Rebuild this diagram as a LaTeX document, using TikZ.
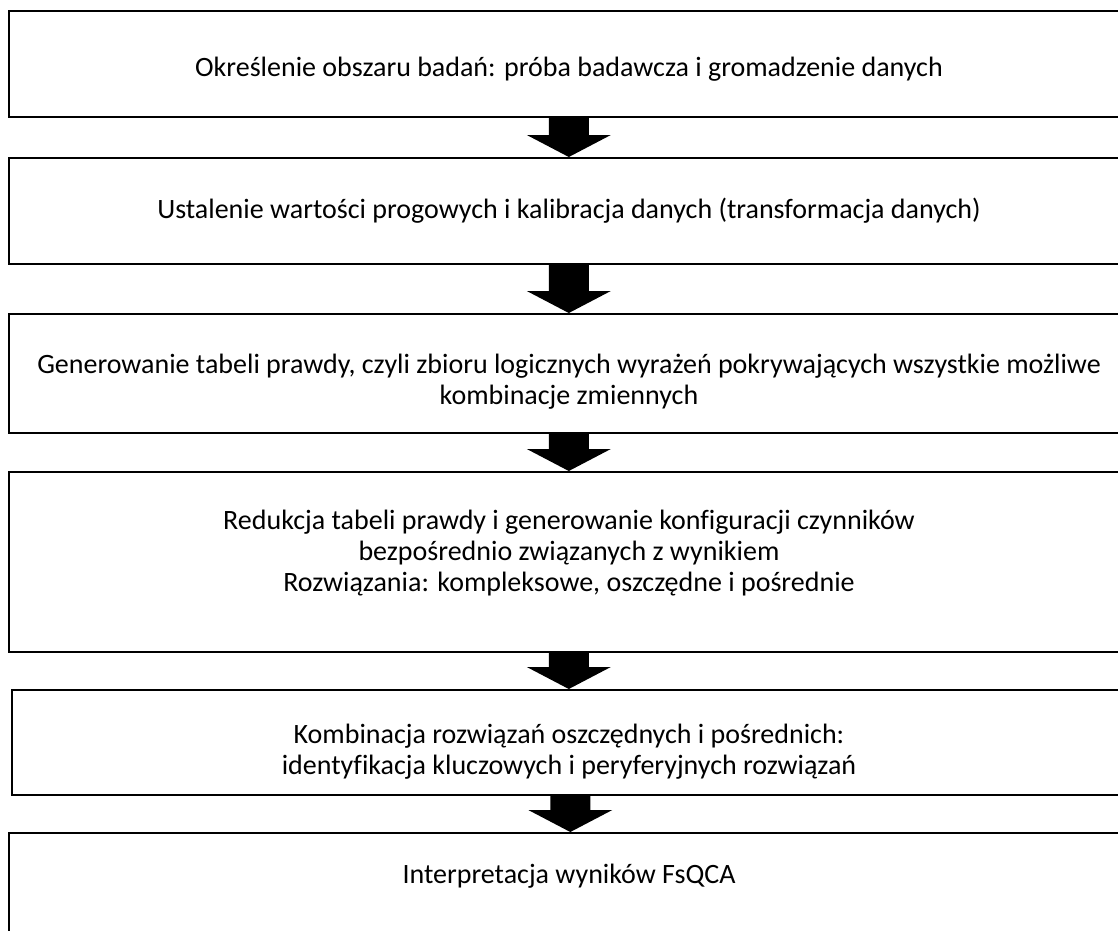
\documentclass[tikz,border=0pt]{standalone}
\usepackage{fontspec}
\setmainfont[Ligatures=NoCommon]{Carlito}
\usetikzlibrary{calc}

% broad downward block arrow from one stage box to the next
\newcommand\fatarrow[2]{%
  \fill let \p1=(#1.south), \p2=(#2.north) in
    (\x1-20pt,\y1) -- (\x1-20pt,\y2+22pt) -- (\x1-42pt,\y2+22pt) --
    (\x1,\y2) -- (\x1+42pt,\y2+22pt) -- (\x1+20pt,\y2+22pt) --
    (\x1+20pt,\y1) -- cycle;}

\begin{document}
\begin{tikzpicture}[x=1pt,y=-1pt,
  stage/.style={draw,line width=1.6pt,minimum width=1120pt,
    anchor=north west,inner sep=0pt},
  steptext/.style={font=\fontsize{28}{31}\selectfont,align=center,
    anchor=base,inner sep=0pt}]
\useasboundingbox (0,0) rectangle (1118,930);
\clip (0,0) rectangle (1118,930);

% stage boxes
\node[stage,minimum height=106pt] (b1) at (8,10) {};
\node[stage,minimum height=106pt] (b2) at (8,157) {};
\node[stage,minimum height=119pt] (b3) at (8,313) {};
\node[stage,minimum height=180pt] (b4) at (8,471) {};
\node[stage,minimum height=105pt,minimum width=1117pt] (b5) at (11,689) {};
\node[stage,minimum height=150pt] (b6) at (8,832) {};

% arrows between the stages
\fatarrow{b1}{b2}
\fatarrow{b2}{b3}
\fatarrow{b3}{b4}
\fatarrow{b4}{b5}
\fatarrow{b5}{b6}

% stage descriptions (multi-line nodes are placed by their last baseline)
\node[steptext] (t1) at (569,76) {Określenie obszaru badań: próba badawcza i gromadzenie danych};
\node[steptext] (t2) at (569,218) {Ustalenie wartości progowych i kalibracja danych (transformacja danych)};
\node[steptext] (t3) at (569,404) {Generowanie tabeli prawdy, czyli zbioru logicznych wyrażeń pokrywających wszystkie możliwe\\kombinacje zmiennych};
\node[steptext] (t4) at (569,591) {Redukcja tabeli prawdy i generowanie konfiguracji czynników\\bezpośrednio związanych z wynikiem\\Rozwiązania: kompleksowe, oszczędne i pośrednie};
\node[steptext] (t5) at (569,774) {Kombinacja rozwiązań oszczędnych i pośrednich:\\identyfikacja kluczowych i peryferyjnych rozwiązań};
\node[steptext] (t6) at (569,883) {Interpretacja wyników FsQCA};
\end{tikzpicture}
\end{document}
